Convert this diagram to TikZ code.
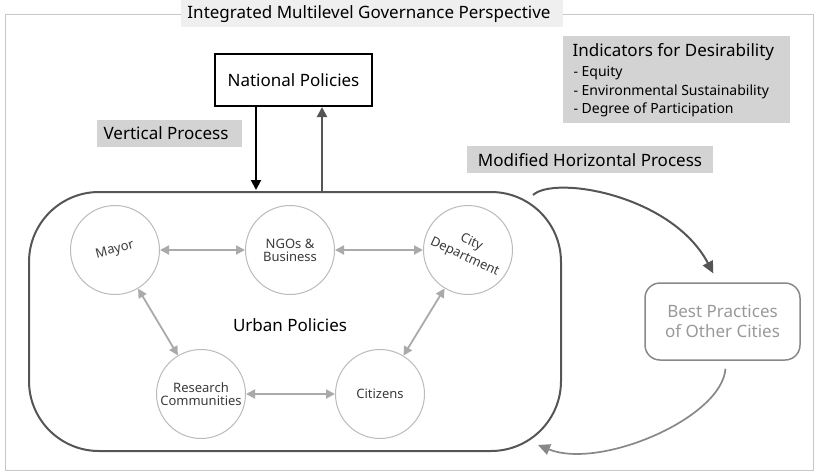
\documentclass[tikz,border=0pt]{standalone}
\usepackage{fontspec}
\setmainfont{Noto Sans}
\usetikzlibrary{arrows.meta}
\definecolor{framegray}{HTML}{C8C8C8}
\definecolor{titlefill}{HTML}{EFEFEF}
\definecolor{labelfill}{HTML}{D3D3D3}
\definecolor{ringgray}{HTML}{BBBBBB}
\definecolor{linkgray}{HTML}{AAAAAA}
\definecolor{darkline}{HTML}{555555}
\definecolor{midgray}{HTML}{888888}
\definecolor{softtext}{HTML}{999999}
\definecolor{circletext}{HTML}{3A3A3A}
\tikzset{
  bigfont/.style={font=\fontsize{17}{20}\selectfont},
  smallfont/.style={font=\fontsize{14}{19}\selectfont},
  actor/.style={circle, draw=ringgray, line width=1pt, minimum size=89pt, inner sep=0pt,
    align=center, text=circletext, font=\fontsize{13}{15}\selectfont},
  link/.style={draw=linkgray, line width=1.8pt, {Triangle[length=9pt,width=9pt]}-{Triangle[length=9pt,width=9pt]}},
}
\begin{document}
\begin{tikzpicture}[x=1pt, y=-1pt]
\useasboundingbox (0,0) rectangle (814,472);

% outer frame and its heading
\draw[framegray, line width=1pt] (5,14) rectangle (813,470);
\fill[titlefill] (181,0) rectangle (563,27);
\node[bigfont] (title) at (369,14) {Integrated Multilevel Governance Perspective};

% national level
\node[draw=black, line width=2pt, minimum width=157pt, minimum height=52pt, bigfont] (nat) at (293.5,80) {National Policies};
\fill[labelfill] (97,120) rectangle (242,147);
\node[bigfont] (vert) at (166,133.5) {Vertical Process};

% urban level container
\draw[darkline, line width=2pt, rounded corners=70pt] (29,192) rectangle (561,451);
\coordinate (downend) at (256,190);
\coordinate (upstart) at (322,191);
\draw[black, line width=2pt, -{Triangle[length=10pt,width=10pt]}] (nat.south -| downend) -- (downend);
\draw[darkline, line width=2pt, -{Triangle[length=10pt,width=10pt]}] (upstart) -- (nat.south -| upstart);
\node[bigfont] (urban) at (290,325) {Urban Policies};

% actors
\node[actor, rotate=15] (mayor) at (115,250) {Mayor};
\node[actor] (ngo) at (290,250) {NGOs \&\\[-2pt]Business};
\node[actor, rotate=-25] (city) at (468,250) {City\\[1pt]Department};
\node[actor] (research) at (201,394) {Research\\[-2pt]Communities};
\node[actor] (citizens) at (380,394) {Citizens};

\draw[link] (mayor) -- (ngo);
\draw[link] (ngo) -- (city);
\draw[link] (mayor) -- (research);
\draw[link] (city) -- (citizens);
\draw[link] (research) -- (citizens);

% indicators
\fill[labelfill] (563,36) rectangle (790,123);
\node[bigfont, anchor=west] (ind) at (569,52) {Indicators for Desirability};
\node[smallfont, anchor=west] (eq) at (570,73) {- Equity};
\node[smallfont, anchor=west] (env) at (570,92) {- Environmental Sustainability};
\node[smallfont, anchor=west] (deg) at (570,110) {- Degree of Participation};

% horizontal process
\fill[labelfill] (467,146) rectangle (713,173);
\node[bigfont] (horiz) at (590,160) {Modified Horizontal Process};
\node[draw=midgray, line width=1.5pt, rounded corners=15pt, minimum width=155pt, minimum height=77pt,
  align=center, text=softtext, bigfont] (best) at (722.5,321.5) {Best Practices\\of Other Cities};

\coordinate (outstart) at (533,195);
\coordinate (inend) at (538,445);
\draw[darkline, line width=2pt, shorten >=10pt, -{Triangle[length=12pt,width=11pt]}]
  (outstart) .. controls (555,175) and (672,195) .. (best.north -| 718,0);
\draw[midgray, line width=1.7pt, shorten <=8pt, -{Triangle[length=12pt,width=11pt]}]
  (best.south -| 726,0) .. controls (722,418) and (600,470) .. (inend);
\end{tikzpicture}
\end{document}
